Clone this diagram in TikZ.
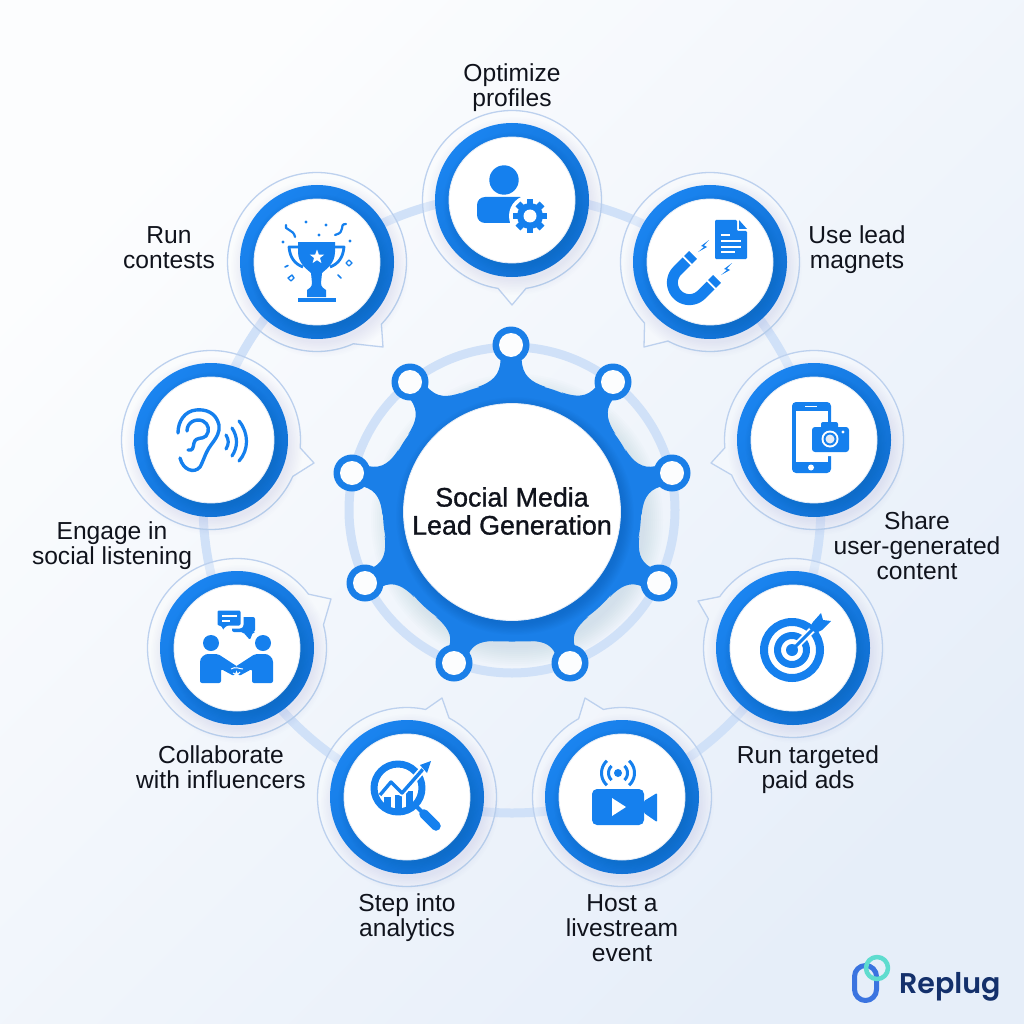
\documentclass[tikz,border=0pt]{standalone}
\usepackage{fontspec}
\setmainfont{Liberation Sans}
\newfontfamily\logofont{Poppins SemiBold}
\newfontfamily\titlefont[FakeBold=1.1]{Liberation Sans}
\definecolor{ib}{HTML}{1580EE}
\definecolor{cb}{HTML}{1A7FE8}
\definecolor{hl}{HTML}{1A84F0}
\definecolor{hd}{HTML}{1170D2}
\definecolor{track}{HTML}{D0E1F8}
\definecolor{thin}{HTML}{BDD1EE}
\definecolor{shad}{HTML}{5B7FB0}
\definecolor{tx}{HTML}{10131C}
\definecolor{bga}{HTML}{FCFDFE}
\definecolor{bgb}{HTML}{E6EEF9}
\definecolor{rim}{HTML}{E3EBF6}
\tikzset{
  lbl/.style={align=center,text=tx,font=\fontsize{24.6}{25}\selectfont,inner sep=0pt},
  hubface/.style={circle,fill=white,draw=rim,line width=.8pt,minimum size=126pt,inner sep=0pt},
  hubring/.style={circle,shading=axis,top color=hl,bottom color=hd,shading angle=45,minimum size=154pt,inner sep=0pt},
  hole/.style={circle,fill=bga,minimum size=24pt,inner sep=0pt},
  knob/.style={circle,fill=cb,minimum size=37pt,inner sep=0pt},
  bubbleline/.style={draw=thin,line width=1.3pt,fill=white,fill opacity=.3},
}
\newcommand\softshad[6]{\foreach \i in {0,...,9}{\fill[#5,opacity=#6] (#1,#2) circle ({#3+#4*(1-\i/9)});}}
% name, cx, cy, base angle 1, base angle 2, tip x, tip y
\newcommand\hubnode[7]{%
  \pgfmathsetmacro\hbs{#5}\pgfmathsetmacro\hbe{#4+360}%
  \draw[bubbleline] plot[domain=\hbs:\hbe,samples=90,smooth] ({#2+89.5*cos(\x)},{#3+89.5*sin(\x)}) -- (#6,#7) -- cycle;
  \softshad{#2+3}{#3+6}{75}{14}{shad}{.012}
  \node[hubring] (#1ring) at (#2,#3) {};
  \foreach \i in {0,...,5}{\fill[hd!80!black,opacity=.035] (#2+2,#3+3) circle ({63+1.5*\i});}
  \node[hubface] (#1) at (#2,#3) {};
}
\newcommand\gearicon[3]{%
  \foreach \t in {0,45,...,315}{\fill[ib,rotate around={\t:(#1,#2)}] ({#1-3.4},{#2-#3}) rectangle ({#1+3.4},{#2});}
  \fill[ib] (#1,#2) circle (13);
  \fill[white] (#1,#2) circle (6.5);
}
\begin{document}
\begin{tikzpicture}[x=1pt,y=-1pt,line join=round]
\useasboundingbox (0,0) rectangle (1024,1024);
\shade[shading=axis,top color=bga,bottom color=bgb,shading angle=45] (0,0) rectangle (1024,1024);
% tracks
\draw[track,line width=9pt] (512,504) circle (309);
\draw[track,line width=9pt] (512,510) circle (163);
% centre shape
\softshad{517}{520}{128}{18}{shad}{.015}
\fill[cb] (512,512) circle (129);
\fill[cb] (470,640) .. controls (490,642) and (534,642) .. (554,640) -- (554,620) -- (470,620) -- cycle;
\foreach \kx/\ky/\kn in {511/345/ka,613/382/kb,672/473/kc,659/583/kd,570/663/ke,454/663/kf,365/583/kg,352/473/kh,410/382/ki}{
  \pgfmathsetmacro\ka{atan2(\ky-512,\kx-512)}
  \pgfmathsetmacro\kd{veclen(\kx-512,\ky-512)}
  \pgfmathsetmacro\ke{\kd-14}
  \fill[cb,shift={(512,512)},rotate=-\ka] (125,-34) .. controls (130,-20) and (136,-11) .. (\ke,-10.5) -- (\ke,10.5) .. controls (136,11) and (130,20) .. (125,34) -- cycle;
  \node[knob] (\kn) at (\kx,\ky) {};
  \node[hole] at (\kn) {};
}
\foreach \i in {0,...,9}{\fill[hd!75!black,opacity=.035] (515,516) circle ({108+1.2*\i});}
\node[circle,fill=white,draw=rim,line width=.8pt,minimum size=217pt,inner sep=0pt,align=center] (core) at (512,512) {};
\node[align=center,text=tx,inner sep=0pt,font=\titlefont\fontsize{26.8}{28}\selectfont] (title) at (512,511) {Social Media\\Lead Generation};
% hubs
\hubnode{optimize}{512}{200}{81}{99}{512}{305}
\hubnode{magnets}{710}{262}{118}{137}{644}{347}
\hubnode{share}{814}{440}{157}{175}{711}{463}
\hubnode{target}{793}{648}{199}{215}{698}{601}
\hubnode{live}{622}{797}{241}{258}{585}{698}
\hubnode{analytics}{407}{797}{-78}{-62}{442}{698}
\hubnode{influencers}{237}{648}{-37}{-15}{331}{599}
\hubnode{ear}{211}{440}{5}{24}{314}{463}
\hubnode{contests}{317}{262}{44}{66}{383}{347}
% labels
\node[lbl] (l1) at (512,88) {Optimize\\profiles};
\node[lbl] (l2) at (857,250) {Use lead\\magnets};
\node[lbl] (l3) at (917,546) {Share\\user-generated\\content};
\node[lbl] (l4) at (808,770) {Run targeted\\paid ads};
\node[lbl] (l5) at (622,928) {Host a\\livestream\\event};
\node[lbl] (l6) at (407,918) {Step into\\analytics};
\node[lbl] (l7) at (221,767) {Collaborate\\with influencers};
\node[lbl] (l8) at (112,546) {Engage in\\social listening};
\node[lbl] (l9) at (169,248) {Run\\contests};
% --- icon: person + gear
\fill[ib] (504,180) circle (14.7);
\fill[ib,rounded corners=8] (477,223) -- (477,197) -- (528,197) -- (528,223) -- cycle;
\fill[white] (530,216) circle (21);
\gearicon{530}{216}{17}
% --- icon: trophy
\fill[ib] (298,242) -- (335,242) -- (335,252) .. controls (335,264) and (325,270) .. (322,273) -- (321,283) .. controls (321,287) and (324,289) .. (326,290) -- (326,297) -- (307,297) -- (307,290) .. controls (309,289) and (312,287) .. (312,283) -- (311,273) .. controls (308,270) and (298,264) .. (298,252) -- cycle;
\fill[ib] (298,298) rectangle (336,302);
\draw[ib,line width=2.8pt] (298,247) -- (289,247) .. controls (290,258) and (295,264) .. (303,267);
\draw[ib,line width=2.8pt] (335,247) -- (344,247) .. controls (343,258) and (338,264) .. (330,267);
\fill[white] plot[samples at={0,36,...,324}] ({317+(mod(\x,72)==0?7.5:3.1)*sin(\x)},{257-(mod(\x,72)==0?7.5:3.1)*cos(\x)}) -- cycle;
\draw[ib,line width=2.2pt,line cap=round] (286,225) .. controls (283,230) and (294,229) .. (295,237);
\draw[ib,line width=2.2pt,line cap=round] (346,224) .. controls (338,224) and (347,232) .. (335,235);
\foreach \px/\py in {306/222,326/225,319/235,283/242,350/241}{\fill[ib] (\px,\py) circle (1.7);}
\draw[ib,line width=1.6pt,line cap=round] (285,267) -- (288,265.5);
\draw[ib,line width=1.6pt,line cap=round] (338,275) -- (341,278);
\draw[ib,line width=1.4pt] (349,260) -- (352,263) -- (349,266) -- (346,263) -- cycle;
\draw[ib,line width=1.4pt] (292,275) -- (294,278) -- (291,281) -- (288,278) -- cycle;
% --- icon: magnet + document
\draw[ib,line width=11pt] (693,255) -- (677.4,270.6) plot[domain=225:45,samples=30,smooth] ({689.4+17*cos(\x)},{282.6+17*sin(\x)}) -- (717,279);
\draw[white,line width=1.8pt] (682.3,255.7) -- (692.3,265.7);
\draw[white,line width=1.8pt] (706.3,279.7) -- (716.3,289.7);
\fill[ib] (709,240) -- (701,246) -- (704,247) -- (698,252) -- (707,247) -- (704,245.5) -- cycle;
\fill[ib] (732,263) -- (724,269) -- (727,270) -- (721,275) -- (730,270) -- (727,268.5) -- cycle;
\fill[ib,rounded corners=1.2] (715,220) -- (737,220) -- (737,231) -- (747,231) -- (747,259) -- (715,259) -- cycle;
\fill[ib] (739,220) -- (747,229) -- (739,229) -- cycle;
\foreach \ya/\xb in {235/730,241/741,247/741,252/735}{\draw[white,line width=1.5pt] (721,\ya) -- (\xb,\ya);}
% --- icon: phone + camera
\fill[ib,rounded corners=4] (792,402) rectangle (831,473);
\fill[white] (795.5,411) rectangle (827.5,462);
\draw[white,line width=1.4pt] (805,406.5) -- (817,406.5);
\fill[white] (811,467.5) circle (3);
\fill[white,rounded corners=4] (808,423) rectangle (853,456);
\fill[ib,rounded corners=3] (812,427) rectangle (849,452);
\fill[ib,rounded corners=2] (821,422) rectangle (838,430);
\fill[white] (830,439) circle (8.5);
\fill[ib] (830,439) circle (6.5);
\fill[rim] (830,439) circle (4.5);
\fill[white] (843,432) circle (1.6);
% --- icon: ear
\draw[ib,line width=3.4pt,line cap=round] (180,458) .. controls (183,470) and (194,474) .. (200,467) .. controls (204,460) and (205,453) .. (211,445) .. controls (217,437) and (220,432) .. (219,425) .. controls (216,412) and (205,409) .. (196,410) .. controls (185,411) and (178,421) .. (178,433);
\draw[ib,line width=3.4pt,line cap=round] (187,431) .. controls (187,422) and (196,418) .. (203,421) .. controls (209,424) and (210,431) .. (206,436) .. controls (202,440) and (196,436) .. (194,443) .. controls (193,448) and (193,451) .. (188,450);
\draw[ib,line width=3.2pt,line cap=round] (226,435) .. controls (229,440) and (229,444) .. (226,449);
\draw[ib,line width=3.2pt,line cap=round] (232,428) .. controls (238,437) and (238,447) .. (232,456);
\draw[ib,line width=3.2pt,line cap=round] (239,421) .. controls (249,433) and (249,450) .. (239,461);
% --- icon: influencers
\fill[ib] (211,643) circle (8);
\fill[ib] (263,643) circle (8);
\fill[ib,rounded corners=2] (200,683) -- (200,664) .. controls (200,657) and (205,654) .. (210,654) -- (218,654) -- (238,667) -- (234,676) -- (221,669) -- (221,683) -- cycle;
\fill[ib,rounded corners=2] (273,683) -- (273,664) .. controls (273,657) and (268,654) .. (263,654) -- (255,654) -- (235,667) -- (239,676) -- (252,669) -- (252,683) -- cycle;
\draw[white,line width=1pt] (231,669) .. controls (235,666) and (240,669) .. (243,669);
\draw[white,line width=1pt] (233,673) .. controls (236,675) and (238,675) .. (240,672);
\fill[ib,rounded corners=2] (232,617) -- (255,617) -- (255,632) -- (253,632) -- (250,640) -- (243,632) -- (232,632) -- cycle;
\draw[white,line width=3pt,fill=ib,rounded corners=2.5] (216,609) -- (242,609) -- (242,627) -- (227,627) -- (222,634) -- (221,627) -- (216,627) -- cycle;
\draw[white,line width=1.3pt] (222,616) -- (237,616);
\draw[white,line width=1.3pt] (222,621) -- (230,621);
% --- icon: analytics
\begin{scope}
\clip (398,788) circle (22);
\fill[ib] (384,797) rectangle (391,815);
\fill[ib] (395,795) rectangle (402,815);
\fill[ib] (406,791) rectangle (413,815);
\end{scope}
\draw[ib,line width=7pt] (398,788) circle (24);
\draw[white,line width=7pt] (381,794) -- (391,782) -- (402,793) -- (424,768);
\draw[ib,line width=3.4pt] (380,795) -- (391,782) -- (402,793) -- (424,768);
\fill[white] (417,763) -- (431,759) -- (429,776) -- cycle;
\fill[ib] (420,765) -- (431,761) -- (427,773) -- cycle;
\draw[ib,line width=4pt] (416,806) -- (424,814);
\draw[ib,line width=9.5pt,line cap=round] (424,814) -- (436,826);
% --- icon: livestream
\fill[ib,rounded corners=5] (592,789) rectangle (644,825);
\fill[ib,rounded corners=1] (644,801) -- (657,793) -- (657,822) -- (644,813) -- cycle;
\fill[white] (612,798) -- (612,816) -- (626,807) -- cycle;
\fill[ib] (618,773) circle (4);
\foreach \ar in {9.5,16.5}{
 \draw[ib,line width=3pt] plot[domain=-48:48,samples=12,smooth] ({618+\ar*cos(\x)},{773+\ar*sin(\x)});
 \draw[ib,line width=3pt] plot[domain=132:228,samples=12,smooth] ({618+\ar*cos(\x)},{773+\ar*sin(\x)});
}
% --- icon: target
\draw[ib,line width=8pt] (792,650) circle (28);
\draw[ib,line width=7pt] (792,650) circle (14.5);
\fill[ib] (792,650) circle (6);
\draw[white,line width=7pt] (797,645) -- (821,621);
\draw[ib,line width=3pt] (792,650) -- (813,629);
\fill[ib] (809,628) -- (813,622) -- (821,613) -- (823,620) -- (831,621) -- (822,630) -- (816,633) -- cycle;
% --- logo
\draw[color={rgb,255:red,59;green,116;blue,224},line width=5pt,rounded corners=11] (854.5,965.5) rectangle (876.5,1000.5);
\draw[color={rgb,255:red,95;green,220;blue,207},line width=4.5pt] (877,968) circle (11);
\node[anchor=base west,inner sep=0pt,text={rgb,255:red,20;green,48;blue,107},font=\logofont\fontsize{28.5}{30}\selectfont] (brand) at (899,993) {Replug};
\end{tikzpicture}
\end{document}
